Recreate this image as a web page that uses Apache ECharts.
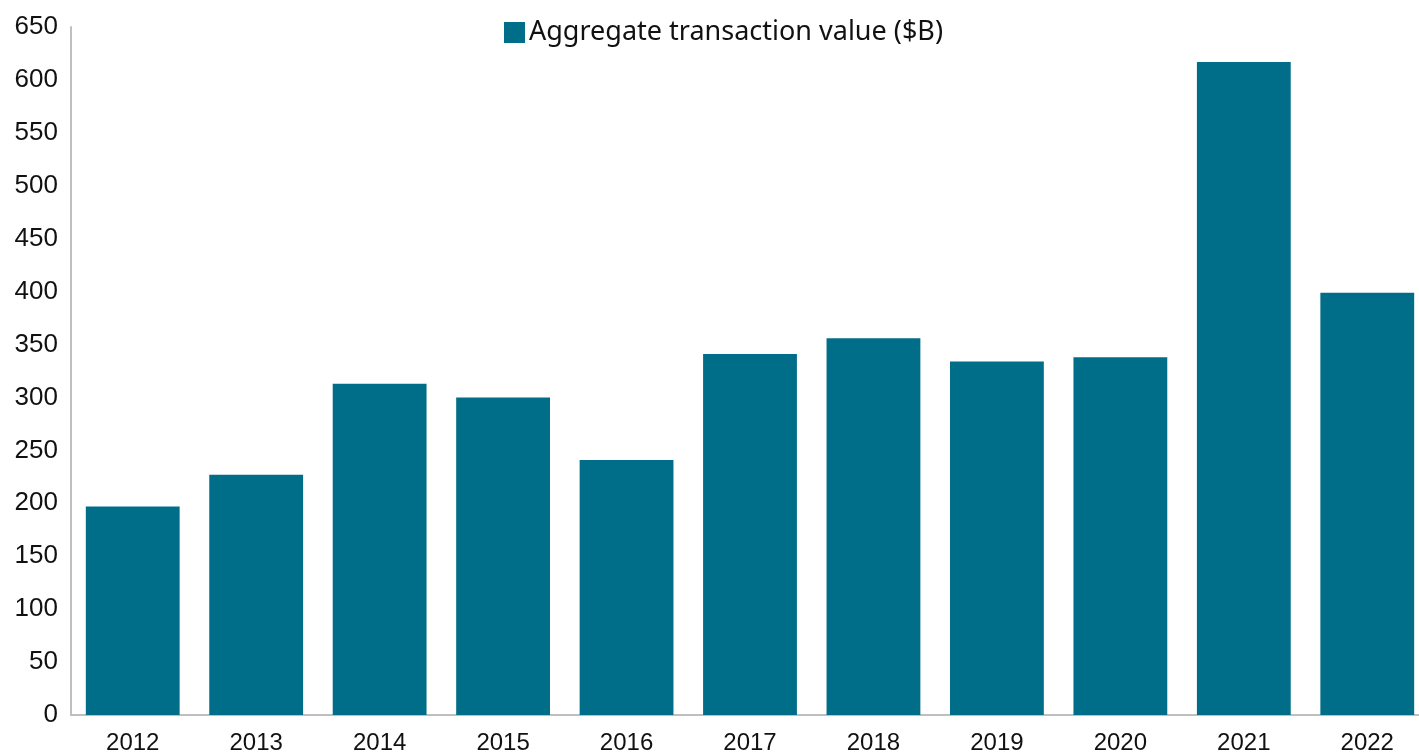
<!DOCTYPE html>
<html>
<head>
<meta charset="utf-8">
<script src="https://cdn.jsdelivr.net/npm/echarts@6/dist/echarts.min.js"></script>
<style>
  html, body { margin: 0; padding: 0; background: #fff; }
  #chart { width: 1419px; height: 752px; }
</style>
</head>
<body>
<div id="chart"></div>
<script>
// 数据
var years = ['2012', '2013', '2014', '2015', '2016', '2017', '2018', '2019', '2020', '2021', '2022'];
var aggValue = [197, 227, 313, 300, 241, 341, 356, 334, 338, 617, 399];
var seriesName = 'Aggregate transaction value ($B)';

var myChart = echarts.init(document.getElementById('chart'));
var option = {
    animation: false,
    color: ['#006E89'],
    legend: {
        top: 14,
        left: 499,
        icon: 'rect',
        itemWidth: 21,
        itemHeight: 21,
        itemGap: 10,
        textStyle: {
            fontFamily: 'Noto Sans',
            fontSize: 27,
            padding: [0, 0, 0, -1],
            color: '#111'
        },
        data: [seriesName]
    },
    grid: { left: 71, right: -10, top: 27, bottom: 37, outerBoundsMode: 'none' },
    xAxis: {
        type: 'category',
        data: years,
        axisLine: { lineStyle: { color: '#BFBFBF', width: 2 } },
        axisTick: { show: false },
        axisLabel: {
            margin: 16,
            fontFamily: 'Liberation Sans',
            fontSize: 24,
            color: '#111'
        }
    },
    yAxis: {
        type: 'value',
        min: 0,
        max: 650,
        interval: 50,
        axisLine: { show: true, lineStyle: { color: '#BFBFBF', width: 2 } },
        axisTick: { show: false },
        splitLine: { show: false },
        axisLabel: {
            margin: 13,
            fontFamily: 'Liberation Sans',
            fontSize: 26,
            color: '#111'
        }
    },
    series: [{
        name: seriesName,
        type: 'bar',
        barCategoryGap: '24%',
        data: aggValue
    }]
};
option && myChart.setOption(option);
</script>
</body>
</html>
